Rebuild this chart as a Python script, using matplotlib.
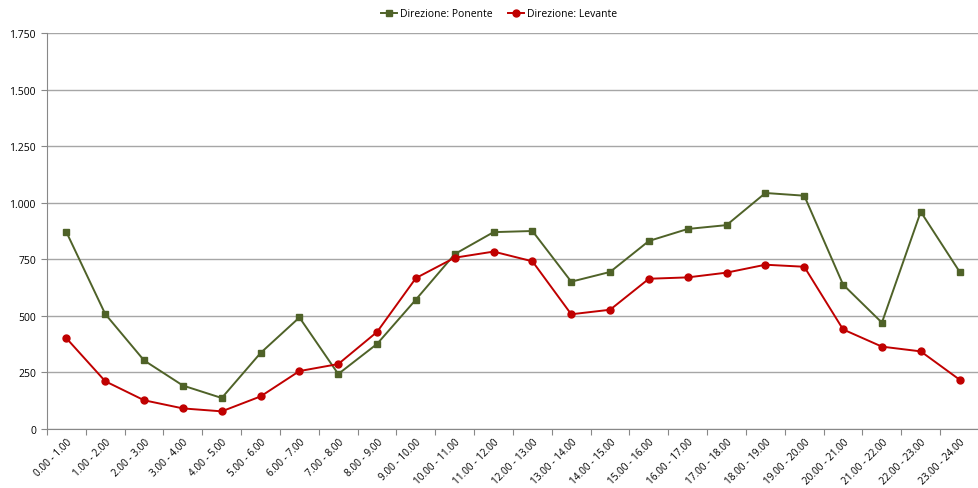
import matplotlib
matplotlib.use("Agg")
import matplotlib.pyplot as plt
import numpy as np
from matplotlib.ticker import FuncFormatter

fasce = ["%d.00 - %d.00" % (h, h + 1) for h in range(24)]
ponente = [870, 508, 303, 192, 137, 336, 493, 243, 376, 572, 773, 870,
           875, 651, 694, 831, 884, 901, 1043, 1031, 638, 470, 960, 695]
levante = [401, 211, 127, 91, 78, 144, 256, 287, 429, 667, 757, 784,
           741, 507, 527, 664, 670, 691, 726, 717, 440, 364, 343, 218]

plt.rcParams['font.family'] = ['Open Sans', 'DejaVu Sans']

fig = plt.figure(figsize=(9.79, 4.89), dpi=100)
ax = fig.add_axes([47/979, 1 - 430/489, 1 - 47/979, 396/489])

x = np.arange(len(fasce)) + 0.5
ax.plot(x, ponente, color="#4f6228", marker="s", markersize=4.5, lw=1.4,
        label="Direzione: Ponente", zorder=3)
ax.plot(x, levante, color="#c00000", marker="o", markersize=5, lw=1.4,
        label="Direzione: Levante", zorder=3)

ax.set_xlim(0, len(fasce))
ax.set_ylim(0, 1750)
ax.set_yticks(np.arange(0, 1751, 250))
ax.yaxis.set_major_formatter(FuncFormatter(lambda v, p: "{:,.0f}".format(v).replace(",", ".")))
ax.grid(axis="y", color="#a6a6a6", lw=1)
ax.set_axisbelow(True)

ax.set_xticks(np.arange(len(fasce) + 1))
ax.set_xticklabels([])
ax.set_xticks(x, minor=True)
ax.set_xticklabels(fasce, minor=True, rotation=45, ha="right", rotation_mode="anchor", fontsize=7.2)
ax.tick_params(axis="x", which="minor", length=0, pad=5)
ax.tick_params(axis="x", which="major", length=4, color="#888888")
ax.tick_params(axis="y", length=4, color="#888888", labelsize=7.5, pad=4)

for s in ["top", "right"]:
    ax.spines[s].set_visible(False)
for s in ["left", "bottom"]:
    ax.spines[s].set_color("#888888")

fig.legend(loc="upper center", bbox_to_anchor=(0.51, 1.0), ncol=2, frameon=False,
           fontsize=7.5, handlelength=1.5, handletextpad=0.3, columnspacing=1.5)

fig.savefig("out.png", dpi=100)
